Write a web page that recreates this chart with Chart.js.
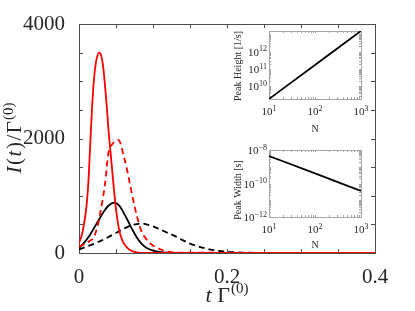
<!DOCTYPE html>
<html>
<head>
<meta charset="utf-8">
<script src="https://cdn.jsdelivr.net/npm/chart.js@4.4.1/dist/chart.umd.min.js"></script>
<style>
  html, body { margin: 0; padding: 0; background: #fff; }
  #wrap { position: relative; width: 415px; height: 311px; }
  canvas { position: absolute; }
</style>
</head>
<body>
<div id="wrap">
  <canvas id="main" width="415" height="311" style="left:0;top:0"></canvas>
  <canvas id="insetH" width="145" height="116" style="left:225px;top:21px"></canvas>
  <canvas id="insetW" width="145" height="115" style="left:225px;top:140px"></canvas>
</div>
<script>
// main panel: I(t)/Gamma(0) against t Gamma(0)
const tRedSolid = [0, 0.005, 0.01, 0.0125, 0.015, 0.0175, 0.02, 0.0225, 0.025, 0.0275, 0.03, 0.0325, 0.035, 0.0375, 0.04, 0.0425, 0.045, 0.0475, 0.05, 0.055, 0.06, 0.065, 0.07, 0.075, 0.08, 0.09, 0.1, 0.4]
const redSolid = [170, 380, 800, 1200, 1850, 2500, 3000, 3300, 3450, 3500, 3450, 3270, 2950, 2560, 2130, 1780, 1420, 1070, 760, 360, 180, 95, 45, 20, 8, 2, 1, 0]

const tRedDashed = [0, 0.005, 0.01, 0.015, 0.02, 0.025, 0.03, 0.035, 0.04, 0.045, 0.05, 0.0525, 0.055, 0.06, 0.065, 0.07, 0.075, 0.08, 0.085, 0.09, 0.095, 0.1, 0.105, 0.11, 0.12, 0.13, 0.4]
const redDashed = [110, 140, 175, 215, 275, 470, 790, 1190, 1760, 1900, 1960, 1975, 1950, 1720, 1450, 1130, 820, 560, 360, 260, 180, 130, 95, 65, 25, 8, 0]

const tBlackSolid = [0, 0.005, 0.01, 0.015, 0.02, 0.025, 0.03, 0.035, 0.04, 0.0475, 0.055, 0.06, 0.065, 0.07, 0.075, 0.08, 0.085, 0.09, 0.095, 0.1, 0.11, 0.12, 0.13, 0.4]
const blackSolid = [85, 150, 230, 320, 430, 540, 650, 750, 830, 880, 820, 710, 590, 460, 340, 235, 155, 100, 65, 40, 15, 5, 1, 0]

const tBlackDashed = [0, 0.01, 0.02, 0.03, 0.04, 0.05, 0.06, 0.07, 0.08, 0.085, 0.09, 0.1, 0.11, 0.12, 0.13, 0.14, 0.15, 0.16, 0.17, 0.18, 0.19, 0.2, 0.22, 0.25, 0.4]
const blackDashed = [62, 110, 160, 215, 280, 350, 420, 480, 510, 515, 505, 465, 410, 350, 295, 225, 165, 120, 85, 55, 35, 22, 8, 2, 0]

const xTickLabels = [0, 0.2, 0.4]
const yTickLabels = [0, 2000, 4000]

// insets (tick labels are 10 to the power of the exponent strings)
const N = [10, 100, 1000]
const peakHeight = [1.9e9, 1.7e11, 1.5e13]
const peakWidth = [4.4e-9, 4.0e-10, 3.6e-11]
const nTicks = [10, 100, 1000]
const nExp = ["1", "2", "3"]
const heightTicks = [1e10, 1e11, 1e12]
const heightExp = ["10", "11", "12"]
const widthTicks = [1e-12, 1e-10, 1e-8]
const widthExp = ["−12", "−10", "−8"]

const SERIF = "'Liberation Serif', 'DejaVu Serif', serif"
const TEXT = "#262626"

function pts(xs, ys) {
  return xs.map((x, i) => ({ x: x, y: ys[i] }))
}

function line(data, color, dashed) {
  return {
    data: data,
    borderColor: color,
    borderWidth: 1.8,
    borderDash: dashed ? [6, 4] : [],
    pointRadius: 0,
    fill: false,
    cubicInterpolationMode: "monotone"
  }
}

// box round the plot with inward ticks on every side
function frame(id, color, len, xs, ys) {
  return {
    id: id,
    beforeDatasetsDraw(chart) {
      const { ctx, chartArea: a, scales } = chart
      ctx.save()
      ctx.strokeStyle = color
      ctx.lineWidth = 1
      ctx.beginPath()
      xs.forEach(v => {
        const px = Math.round(scales.x.getPixelForValue(v)) + 0.5
        ctx.moveTo(px, a.bottom); ctx.lineTo(px, a.bottom - len)
        ctx.moveTo(px, a.top); ctx.lineTo(px, a.top + len)
      })
      ys.forEach(v => {
        const py = Math.round(scales.y.getPixelForValue(v)) + 0.5
        ctx.moveTo(a.left, py); ctx.lineTo(a.left + len, py)
        ctx.moveTo(a.right, py); ctx.lineTo(a.right - len, py)
      })
      ctx.stroke()
      ctx.strokeRect(Math.round(a.left) + 0.5, Math.round(a.top) + 0.5,
        Math.round(a.right - a.left), Math.round(a.bottom - a.top))
      ctx.restore()
    }
  }
}

// text in pieces: italic letters, raised superscripts, extra gaps
function drawRich(ctx, parts, size, align) {
  const fontOf = p => (p.it ? "italic " : "") + (p.sup ? Math.round(size * 0.7) : size) + "px " + SERIF
  let w = 0
  parts.forEach(p => { ctx.font = fontOf(p); w += ctx.measureText(p.t).width + (p.gap || 0) })
  let x = align === "right" ? -w : -w / 2
  parts.forEach(p => {
    ctx.font = fontOf(p)
    ctx.fillText(p.t, x, p.sup ? -size * 0.4 : 0)
    x += ctx.measureText(p.t).width + (p.gap || 0)
  })
}

function titles(id, list) {
  return {
    id: id,
    afterDraw(chart) {
      const ctx = chart.ctx
      list.forEach(t => {
        ctx.save()
        ctx.fillStyle = TEXT
        ctx.textAlign = "left"
        ctx.textBaseline = "alphabetic"
        ctx.translate(t.x, t.y)
        if (t.rot) ctx.rotate(-Math.PI / 2)
        drawRich(ctx, t.parts, t.size, t.align)
        ctx.restore()
      })
    }
  }
}

// power-of-ten tick labels for the log insets
function powerLabels(id, xTicks, xExp, yTicks, yExp) {
  return {
    id: id,
    afterDraw(chart) {
      const { ctx, chartArea: a, scales } = chart
      ctx.save()
      ctx.fillStyle = TEXT
      ctx.textAlign = "left"
      ctx.textBaseline = "alphabetic"
      xTicks.forEach((v, i) => {
        ctx.save()
        ctx.translate(scales.x.getPixelForValue(v), a.bottom + 16)
        drawRich(ctx, [{ t: "10" }, { t: xExp[i], sup: true }], 11, "center")
        ctx.restore()
      })
      yTicks.forEach((v, i) => {
        ctx.save()
        ctx.translate(a.left - 2, scales.y.getPixelForValue(v) + 4)
        drawRich(ctx, [{ t: "10" }, { t: yExp[i], sup: true }], 11, "right")
        ctx.restore()
      })
      ctx.restore()
    }
  }
}

const mainXTicks = []
for (let i = 0; i <= 8; i++) mainXTicks.push(i * 0.05)
const mainYTicks = []
for (let i = 0; i <= 8; i++) mainYTicks.push(i * 500)

new Chart(document.getElementById("main"), {
  type: "line",
  data: {
    datasets: [
      line(pts(tRedSolid, redSolid), "#ff0000", false),
      line(pts(tRedDashed, redDashed), "#ff0000", true),
      line(pts(tBlackSolid, blackSolid), "#000000", false),
      line(pts(tBlackDashed, blackDashed), "#000000", true)
    ]
  },
  options: {
    responsive: false,
    animation: false,
    layout: { padding: { left: 0, top: 24, right: 40, bottom: 0 } },
    plugins: { legend: { display: false }, tooltip: { enabled: false } },
    scales: {
      x: {
        type: "linear",
        min: 0, max: 0.4,
        grid: { display: false },
        border: { display: false },
        afterFit: s => { s.height = 58 },
        afterBuildTicks: s => { s.ticks = xTickLabels.map(v => ({ value: v })) },
        ticks: {
          padding: 4,
          maxRotation: 0,
          color: TEXT,
          font: { family: SERIF, size: 21 },
          callback: v => (v === 0 ? "0" : v.toFixed(1))
        }
      },
      y: {
        min: 0, max: 4000,
        grid: { display: false },
        border: { display: false },
        afterFit: s => { s.width = 79 },
        afterBuildTicks: s => { s.ticks = yTickLabels.map(v => ({ value: v })) },
        ticks: {
          padding: 6,
          color: TEXT,
          font: { family: SERIF, size: 21 },
          callback: v => String(v)
        }
      }
    }
  },
  plugins: [
    frame("mainFrame", "#4d4d4d", 4, mainXTicks, mainYTicks),
    titles("mainTitles", [
      { x: 21, y: 138, rot: true, size: 21, parts: [
        { t: "I", it: true, gap: 1.5 }, { t: "(", gap: 1.5 }, { t: "t", it: true, gap: 1.5 }, { t: ")", gap: 1.5 },
        { t: "/", gap: 1.5 }, { t: "Γ", gap: 1 }, { t: "(0)", sup: true }] },
      { x: 227, y: 302, size: 22, parts: [
        { t: "t", it: true }, { t: " Γ", gap: 1 }, { t: "(0)", sup: true }] }
    ])
  ]
})

function logMinor(lo, hi) {
  const out = []
  for (let d = Math.floor(Math.log10(lo)); d <= Math.ceil(Math.log10(hi)); d++) {
    for (let k = 1; k <= 9; k++) {
      const v = k * Math.pow(10, d)
      if (v >= lo && v <= hi) out.push(v)
    }
  }
  return out
}

function inset(canvasId, ys, yMin, yMax, yTicks, yExp, yTitle, titleY, nY) {
  new Chart(document.getElementById(canvasId), {
    type: "line",
    data: { datasets: [line(pts(N, ys), "#000000", false)] },
    options: {
      responsive: false,
      animation: false,
      layout: { padding: { left: 0, top: 10, right: 9, bottom: 0 } },
      plugins: { legend: { display: false }, tooltip: { enabled: false } },
      scales: {
        x: {
          type: "logarithmic",
          min: 10, max: 1000,
          grid: { display: false },
          border: { display: false },
          afterFit: s => { s.height = 38 },
          ticks: { display: false }
        },
        y: {
          type: "logarithmic",
          min: yMin, max: yMax,
          grid: { display: false },
          border: { display: false },
          afterFit: s => { s.width = 44 },
          ticks: { display: false }
        }
      }
    },
    plugins: [
      frame(canvasId + "Frame", "#a6a6a6", 2, logMinor(10, 1000), logMinor(yMin, yMax)),
      powerLabels(canvasId + "Labels", nTicks, nExp, yTicks, yExp),
      titles(canvasId + "Titles", [
        { x: 16, y: titleY, rot: true, size: 10, parts: [{ t: yTitle }] },
        { x: 90, y: nY, size: 10, parts: [{ t: "N" }] }
      ])
    ]
  })
}

inset("insetH", peakHeight, 1.9e9, 1.5e13, heightTicks, heightExp, "Peak Height [1/s]", 45, 111)
inset("insetW", peakWidth, 1e-12, 1e-8, widthTicks, widthExp, "Peak Width [s]", 50, 108)
</script>
</body>
</html>
